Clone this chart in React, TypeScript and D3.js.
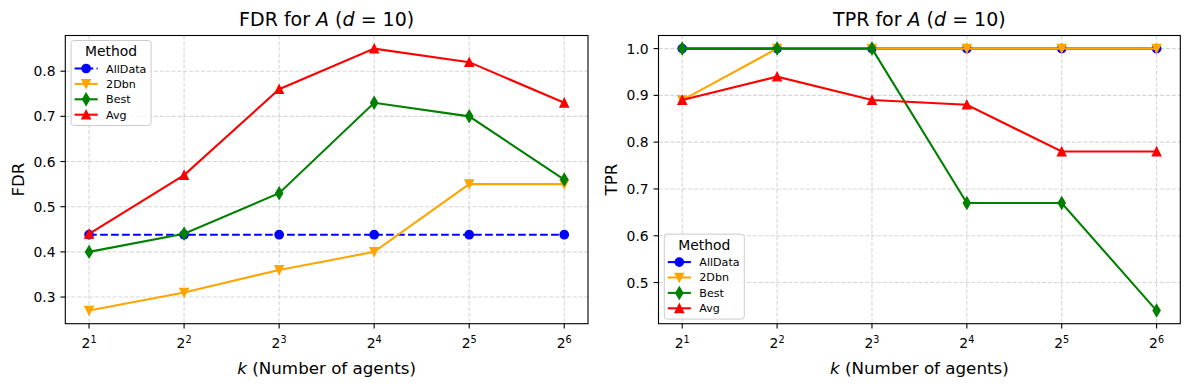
import React, { useEffect, useRef } from 'react';
import * as d3 from 'd3';

// k = number of agents (x axis, log2)
const kValues = [2, 4, 8, 16, 32, 64];
const methods = ['AllData', '2Dbn', 'Best', 'Avg'];

// FDR panel
const fdrAllData = [0.438, 0.438, 0.438, 0.438, 0.438, 0.438];
const fdr2Dbn = [0.27, 0.31, 0.36, 0.4, 0.55, 0.55];
const fdrBest = [0.4, 0.44, 0.53, 0.73, 0.7, 0.56];
const fdrAvg = [0.44, 0.57, 0.76, 0.85, 0.82, 0.73];
const fdrTicks = [0.3, 0.4, 0.5, 0.6, 0.7, 0.8];

// TPR panel
const tprAllData = [1, 1, 1, 1, 1, 1];
const tpr2Dbn = [0.89, 1, 1, 1, 1, 1];
const tprBest = [1, 1, 1, 0.67, 0.67, 0.44];
const tprAvg = [0.89, 0.94, 0.89, 0.88, 0.78, 0.78];
const tprTicks = [0.5, 0.6, 0.7, 0.8, 0.9, 1.0];

const FONT = '"DejaVu Sans", sans-serif';
const colors: Record<string, string> = { AllData: 'blue', '2Dbn': 'orange', Best: 'green', Avg: 'red' };
const markers: Record<string, string> = { AllData: 'o', '2Dbn': 'v', Best: 'd', Avg: '^' };

const MS = 8.33; // marker size 6pt in px
function markerPath(m: string, cx: number, cy: number) {
  const h = MS / 2;
  if (m === 'o') {
    const p = d3.path();
    p.arc(cx, cy, h, 0, Math.PI * 2);
    return p.toString();
  }
  if (m === '^') return `M${cx},${cy - h}L${cx + h},${cy + h}L${cx - h},${cy + h}Z`;
  if (m === 'v') return `M${cx},${cy + h}L${cx + h},${cy - h}L${cx - h},${cy - h}Z`;
  // thin diamond
  const dy = MS * 0.707;
  const dx = dy * 0.6;
  return `M${cx},${cy - dy}L${cx + dx},${cy}L${cx},${cy + dy}L${cx - dx},${cy}Z`;
}

type Panel = {
  title: string;
  ylabel: string;
  series: number[][];
  ticks: number[];
  box: { x0: number; x1: number; y0: number; y1: number };
  legend: 'top' | 'bottom';
  allDataDashed: boolean;
};

const panels: Panel[] = [
  {
    title: 'FDR',
    ylabel: 'FDR',
    series: [fdrAllData, fdr2Dbn, fdrBest, fdrAvg],
    ticks: fdrTicks,
    box: { x0: 65.3, x1: 588, y0: 35.5, y1: 323.7 },
    legend: 'top',
    allDataDashed: true,
  },
  {
    title: 'TPR',
    ylabel: 'TPR',
    series: [tprAllData, tpr2Dbn, tprBest, tprAvg],
    ticks: tprTicks,
    box: { x0: 658.5, x1: 1180.3, y0: 35.5, y1: 323.7 },
    legend: 'bottom',
    allDataDashed: false,
  },
];

function drawPanel(svg: d3.Selection<SVGSVGElement, unknown, null, undefined>, p: Panel) {
  const { x0, x1, y0, y1 } = p.box;
  const lo = Math.log2(kValues[0]);
  const hi = Math.log2(kValues[kValues.length - 1]);
  const pad = (hi - lo) * 0.05;
  const xScale = d3.scaleLog().base(2).domain([2 ** (lo - pad), 2 ** (hi + pad)]).range([x0, x1]);

  const all = p.series.flat();
  const mn = d3.min(all) as number;
  const mx = d3.max(all) as number;
  const m = (mx - mn) * 0.05;
  const yScale = d3.scaleLinear().domain([mn - m, mx + m]).range([y1, y0]);

  const g = svg.append('g');

  // grid
  const grid = g.append('g').attr('stroke', '#b0b0b0').attr('stroke-opacity', 0.5).attr('stroke-width', 1.1).attr('stroke-dasharray', '4.1,1.8');
  kValues.forEach((k) => {
    grid.append('line').attr('x1', xScale(k)).attr('x2', xScale(k)).attr('y1', y0).attr('y2', y1);
  });
  p.ticks.forEach((t) => {
    grid.append('line').attr('x1', x0).attr('x2', x1).attr('y1', yScale(t)).attr('y2', yScale(t));
  });

  // lines + markers
  p.series.forEach((vals, i) => {
    const name = methods[i];
    const c = colors[name];
    const line = d3
      .line<number>()
      .x((_, j) => xScale(kValues[j]))
      .y((d) => yScale(d));
    const path = g.append('path').attr('d', line(vals)).attr('fill', 'none').attr('stroke', c).attr('stroke-width', 2.08);
    if (name === 'AllData' && p.allDataDashed) path.attr('stroke-dasharray', '7.7,3.3');
    vals.forEach((v, j) => {
      g.append('path')
        .attr('d', markerPath(markers[name], xScale(kValues[j]), yScale(v)))
        .attr('fill', c)
        .attr('stroke', c)
        .attr('stroke-width', 1.39)
        .attr('stroke-linejoin', 'miter');
    });
  });

  // spines
  g.append('rect')
    .attr('x', x0)
    .attr('y', y0)
    .attr('width', x1 - x0)
    .attr('height', y1 - y0)
    .attr('fill', 'none')
    .attr('stroke', '#000')
    .attr('stroke-width', 1.1);

  // x ticks
  kValues.forEach((k) => {
    const x = xScale(k);
    g.append('line').attr('x1', x).attr('x2', x).attr('y1', y1).attr('y2', y1 + 4.9).attr('stroke', '#000').attr('stroke-width', 1.1);
    const t = g.append('text').attr('x', x).attr('y', 348).attr('text-anchor', 'middle').attr('font-family', FONT).attr('font-size', 13.9).attr('fill', '#000');
    t.append('tspan').text('2');
    t.append('tspan').attr('dy', -5.5).attr('font-size', 9.7).text(String(Math.log2(k)));
  });

  // y ticks
  p.ticks.forEach((v) => {
    const y = yScale(v);
    g.append('line').attr('x1', x0 - 4.9).attr('x2', x0).attr('y1', y).attr('y2', y).attr('stroke', '#000').attr('stroke-width', 1.1);
    g.append('text')
      .attr('x', x0 - 9.8)
      .attr('y', y + 5)
      .attr('text-anchor', 'end')
      .attr('font-family', FONT)
      .attr('font-size', 13.9)
      .attr('fill', '#000')
      .text(d3.format('.1f')(v));
  });

  const cx = (x0 + x1) / 2;
  // title
  const title = g.append('text').attr('x', cx).attr('y', 26).attr('text-anchor', 'middle').attr('font-family', FONT).attr('font-size', 19).attr('fill', '#000');
  title.append('tspan').text(`${p.title} for `);
  title.append('tspan').attr('font-style', 'italic').text('A');
  title.append('tspan').text(' (');
  title.append('tspan').attr('font-style', 'italic').text('d');
  title.append('tspan').text(' = 10)');

  // x label
  const xl = g.append('text').attr('x', cx).attr('y', 374).attr('text-anchor', 'middle').attr('font-family', FONT).attr('font-size', 16.7).attr('fill', '#000');
  xl.append('tspan').attr('font-style', 'italic').text('k');
  xl.append('tspan').text(' (Number of agents)');

  // y label
  const ylx = x0 - 41.7;
  g.append('text')
    .attr('transform', `translate(${ylx},${(y0 + y1) / 2}) rotate(-90)`)
    .attr('text-anchor', 'middle')
    .attr('font-family', FONT)
    .attr('font-size', 16.7)
    .attr('fill', '#000')
    .text(p.ylabel);

  // legend
  const lw = 80;
  const lh = 85;
  const lx = x0 + 5.8;
  const ly = p.legend === 'top' ? y0 + 5 : y1 - 4.6 - lh;
  const leg = g.append('g').attr('transform', `translate(${lx},${ly})`);
  leg.append('rect')
    .attr('width', lw)
    .attr('height', lh)
    .attr('rx', 3)
    .attr('fill', '#fff')
    .attr('fill-opacity', 0.8)
    .attr('stroke', '#cccccc')
    .attr('stroke-width', 1);
  leg.append('text')
    .attr('x', lw / 2)
    .attr('y', 15.5)
    .attr('text-anchor', 'middle')
    .attr('font-family', FONT)
    .attr('font-size', 13.9)
    .attr('fill', '#000')
    .text('Method');
  methods.forEach((name, i) => {
    const ry = 28 + i * 15.4;
    const c = colors[name];
    const hl = leg.append('line').attr('x1', 3.5).attr('x2', 26.6).attr('y1', ry).attr('y2', ry).attr('stroke', c).attr('stroke-width', 2.08);
    if (name === 'AllData' && p.allDataDashed) hl.attr('stroke-dasharray', '7.7,3.3');
    leg.append('path').attr('d', markerPath(markers[name], 15, ry)).attr('fill', c).attr('stroke', c).attr('stroke-width', 1.39);
    leg.append('text')
      .attr('x', 35)
      .attr('y', ry + 4)
      .attr('font-family', FONT)
      .attr('font-size', 11.1)
      .attr('fill', '#000')
      .text(name);
  });
}

const App = () => {
  const ref = useRef<SVGSVGElement>(null);

  useEffect(() => {
    const svg = d3.select(ref.current as SVGSVGElement);
    svg.selectAll('*').remove();
    svg.append('rect').attr('width', 1189).attr('height', 390).attr('fill', '#fff');
    panels.forEach((p) => drawPanel(svg, p));
  }, []);

  return (
    <svg
      ref={ref}
      width={1189}
      height={390}
      style={{ position: 'absolute', left: 0, top: 0, display: 'block' }}
    />
  );
};

export default App;
